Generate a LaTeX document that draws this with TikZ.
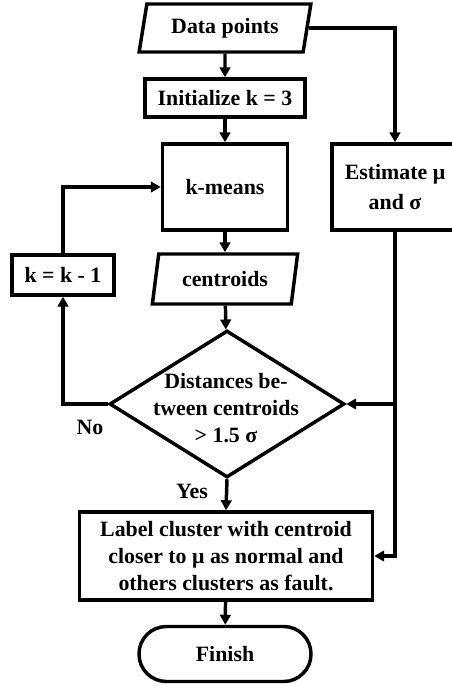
\documentclass[tikz,border=0pt]{standalone}
\usepackage{fontspec}
\setmainfont{Liberation Serif}
\usetikzlibrary{shapes.geometric,arrows.meta}

\tikzset{
	box/.style={rectangle, draw, line width=2.6pt, inner sep=2pt, align=center},
	iobox/.style={trapezium, trapezium left angle=75, trapezium right angle=105,
		trapezium stretches=true, draw, line width=2.6pt, inner sep=0pt},
	flow/.style={line width=2.6pt, -{Triangle[length=7.5pt,width=8pt]}}
}

\begin{document}
\begin{tikzpicture}[x=0.75pt, y=-0.75pt, font=\fontsize{16.4}{20}\selectfont\bfseries]
		
		\useasboundingbox (0,0) rectangle (451,686);
		
		%Main column
		\node (data) at (225,28) [iobox, minimum width=129.75pt, minimum height=36pt]{Data points};
		\node (init) at (225,98) [box, minimum width=120pt, minimum height=28.5pt]{Initialize k = 3};
		\node (kmeans) at (225,187) [box, minimum width=93.75pt, minimum height=64.5pt]{k-means};
		\node (centroids) at (225,279) [iobox, minimum width=109.5pt, minimum height=37.5pt]{centroids};
		
		%Decision
		\node (check) at (227,404) [diamond, draw, line width=2.6pt, inner sep=0pt, minimum width=176.25pt, 
		minimum height=110.25pt]{};
		\node (checktext) at (226,408) [align=center]{Distances be-\\tween centroids\\> 1.5 σ};
		
		%Side boxes
		\node (kk) at (63,275) [box, minimum width=76.5pt, minimum height=30pt]{k = k - 1};
		\node (est) at (395,187) [box, minimum width=94.5pt, minimum height=64.5pt]{Estimate μ\\[2pt]and σ};
		
		%Result
		\node (label) at (226,556) [box, minimum width=219.75pt, minimum height=66pt]{Label cluster with centroid\\closer 
		to μ as normal and\\others clusters as fault.};
		\node (finish) at (225,654) [rectangle, draw, line width=2.6pt, rounded corners=20.5pt, minimum width=129pt, 
		minimum height=41.25pt]{Finish};
		
		%Branch labels
		\node (no) at (90,427) {No};
		\node (yes) at (192,491) {Yes};
		
		%Connectors
		\draw[flow] (data) -- (init);
		\draw[flow] (init) -- (kmeans);
		\draw[flow] (kmeans) -- (centroids);
		\draw[flow] (centroids) -- (check);
		\draw[flow] (check.west) -| (kk.south);
		\draw[flow] (kk.north) |- (kmeans.west);
		\draw[flow] (data.east) -| (est.north);
		\draw[flow] (est.south) |- (label.east);
		\draw[flow] (est.south |- check.east) -- (check.east);
		\draw[flow] (check.south) -- (label.north);
		\draw[flow] (label) -- (finish);
		
\end{tikzpicture}
\end{document}
